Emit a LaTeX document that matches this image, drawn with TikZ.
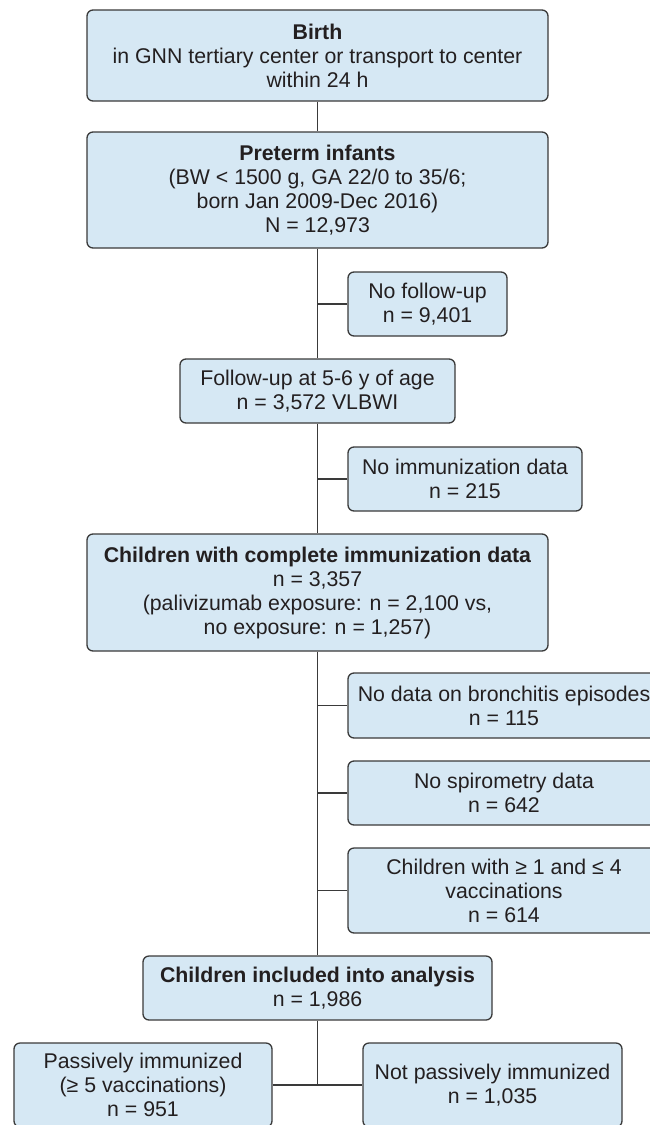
\documentclass[tikz,border=0pt]{standalone}
\usepackage{fontspec}
\setmainfont{Liberation Sans}
\usepackage{tikz}
\usetikzlibrary{positioning, calc}
\definecolor{boxBlue}{RGB}{214, 232, 244}
\definecolor{edgeGray}{RGB}{58, 58, 58}
\definecolor{inkBlack}{RGB}{35, 31, 32}

\begin{document}
\begin{tikzpicture}[
    x=1pt, y=-1pt,
    every node/.style={font=\fontsize{21.3}{24}\selectfont, text=inkBlack},
    flowbox/.style={rectangle, rounded corners=6pt, draw=edgeGray, fill=boxBlue, line width=1.3pt, align=center, inner sep=2pt},
    link/.style={draw=edgeGray, line width=1.3pt},
]
\useasboundingbox (0,0) rectangle (650,1125);
\clip (0,0) rectangle (650,1125);
% MAIN STREAM
\node[flowbox, minimum width=461pt, minimum height=91pt] (birth) at (317.5, 55.5) {\textbf{Birth}\\in GNN tertiary center or transport to center\\within 24 h};
\node[flowbox, minimum width=461pt, minimum height=116pt] (preterm) at (317.5, 190) {\textbf{Preterm infants}\\(BW < 1500 g, GA 22/0 to 35/6;\\born Jan 2009-Dec 2016)\\N = 12,973};
\node[flowbox, minimum width=275pt, minimum height=64pt] (followup) at (317.5, 391) {Follow-up at 5-6 y of age\\n = 3,572 VLBWI};
\node[flowbox, minimum width=461pt, minimum height=117pt] (complete) at (317.5, 592.5) {\textbf{Children with complete immunization data}\\n = 3,357\\(palivizumab exposure: n = 2,100 vs,\\no exposure: n = 1,257)};
\node[flowbox, minimum width=349pt, minimum height=64pt] (included) at (317.5, 988) {\textbf{Children included into analysis}\\n = 1,986};
\draw[link] (birth) -- (preterm);
\draw[link] (preterm) -- (followup);
\draw[link] (followup) -- (complete);
\draw[link] (complete) -- (included);
% EXCLUSIONS
\node[flowbox, minimum width=159pt, minimum height=64pt] (nofollow) at (427.5, 304) {No follow-up\\n = 9,401};
\node[flowbox, minimum width=234pt, minimum height=64pt] (noimmun) at (465, 479) {No immunization data\\n = 215};
\node[flowbox, minimum width=312pt, minimum height=65pt] (nobronch) at (504, 705.5) {No data on bronchitis episodes\\n = 115};
\node[flowbox, minimum width=312pt, minimum height=64pt] (nospiro) at (504, 793) {No spirometry data\\n = 642};
\node[flowbox, minimum width=312pt, minimum height=85pt] (fewvacc) at (504, 890.5) {Children with ≥ 1 and ≤ 4\\vaccinations\\n = 614};
\draw[link] (nofollow.west) -- (nofollow.west -| preterm.south);
\draw[link] (noimmun.west) -- (noimmun.west -| followup.south);
\draw[link] (nobronch.west) -- (nobronch.west -| complete.south);
\draw[link] (nospiro.west) -- (nospiro.west -| complete.south);
\draw[link] (fewvacc.west) -- (fewvacc.west -| complete.south);
% GROUPS
\node[flowbox, minimum width=258pt, minimum height=84pt] (passive) at (143, 1085) {Passively immunized\\(≥ 5 vaccinations)\\n = 951};
\node[flowbox, minimum width=259pt, minimum height=84pt] (notpassive) at (492.5, 1085) {Not passively immunized\\n = 1,035};
\draw[link] (included) -- (included |- passive.east);
\draw[link] (passive.east) -- (notpassive.west);
\end{tikzpicture}
\end{document}
